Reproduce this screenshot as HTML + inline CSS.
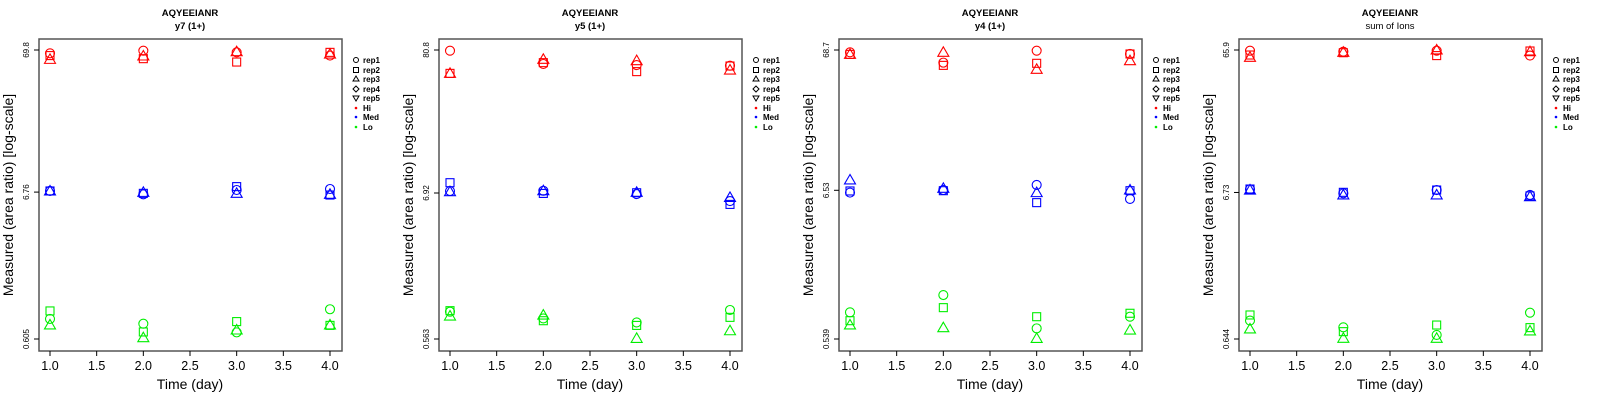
<!DOCTYPE html>
<html><head><meta charset="utf-8"><style>
body{margin:0;background:#fff;}
svg{display:block;font-family:"Liberation Sans",sans-serif;}
</style></head><body>
<svg id="chart" width="1600" height="400" viewBox="0 0 1600 400"></svg>
<script>
// ---- data (log10 of measured area ratio) ----
const days = [1, 2, 3, 4];
const panelTitles = ["y7 (1+)", "y5 (1+)", "y4 (1+)", "sum of Ions"];
const peptide = "AQYEEIANR";
const yTickLabels = [["69.8","6.76","0.605"],["80.8","6.92","0.563"],["68.7","6.53","0.539"],["65.9","6.73","0.644"]];
const yTickValues = [[69.8,6.76,0.605],[80.8,6.92,0.563],[68.7,6.53,0.539],[65.9,6.73,0.644]];
const xTicks = [1.0, 1.5, 2.0, 2.5, 3.0, 3.5, 4.0];
// [panel][day][rep1,rep2,rep3]
const hiLog = [
 [[1.820,1.804,1.777],[1.839,1.782,1.801],[1.827,1.758,1.832],[1.804,1.827,1.815]],
 [[1.902,1.733,1.733],[1.803,1.813,1.838],[1.795,1.746,1.828],[1.790,1.788,1.758]],
 [[1.820,1.805,1.805],[1.745,1.725,1.820],[1.832,1.740,1.696],[1.808,1.808,1.759]],
 [[1.814,1.784,1.768],[1.807,1.800,1.803],[1.814,1.780,1.819],[1.780,1.812,1.807]]
];
const medLog = [
 [[0.838,0.838,0.838],[0.814,0.821,0.828],[0.845,0.869,0.821],[0.852,0.809,0.814]],
 [[0.855,0.917,0.850],[0.857,0.837,0.857],[0.832,0.842,0.845],[0.780,0.755,0.807]],
 [[0.798,0.810,0.890],[0.817,0.812,0.829],[0.854,0.725,0.798],[0.752,0.812,0.817]],
 [[0.850,0.852,0.845],[0.822,0.829,0.811],[0.845,0.845,0.811],[0.811,0.804,0.799]]
];
const loLog = [
 [[-0.075,-0.018,-0.118],[-0.109,-0.168,-0.209],[-0.171,-0.094,-0.154],[-0.006,-0.121,-0.118]],
 [[-0.046,-0.038,-0.078],[-0.096,-0.113,-0.071],[-0.126,-0.148,-0.245],[-0.033,-0.088,-0.188]],
 [[-0.074,-0.135,-0.166],[0.052,-0.040,-0.186],[-0.191,-0.106,-0.264],[-0.106,-0.081,-0.203]],
 [[-0.063,-0.024,-0.121],[-0.110,-0.140,-0.186],[-0.163,-0.094,-0.186],[-0.008,-0.112,-0.135]]
];
const legendLabels = ["rep1","rep2","rep3","rep4","rep5","Hi","Med","Lo"];

const NS = "http://www.w3.org/2000/svg";
const svg = document.getElementById("chart");
function mk(tag, attrs, parent){ const e=document.createElementNS(NS,tag); for(const k in attrs) e.setAttribute(k,attrs[k]); (parent||svg).appendChild(e); return e; }

function marker(g, shape, cx, cy, color){
  let e;
  if(shape===0){ e=mk("circle",{cx:cx,cy:cy,r:4.5,fill:"none",stroke:color,"stroke-width":1.1},g); }
  else if(shape===1){ e=mk("rect",{x:cx-4,y:cy-4,width:8,height:8,fill:"none",stroke:color,"stroke-width":1.1},g); }
  else { e=mk("polygon",{points:`${cx},${cy-5.5} ${cx-5.5},${cy+4} ${cx+5.5},${cy+4}`,fill:"none",stroke:color,"stroke-width":1.1},g); }
  return e;
}

for(let p=0;p<4;p++){
  const ox=p*400;
  const g=mk("g",{transform:`translate(${ox},0)`});
  
  
  const L=39,R=342,T=39,B=351;
  const lt=Math.log10(yTickValues[p][0]), lb=Math.log10(yTickValues[p][2]);
  const yS=v=>50+(lt-v)/(lt-lb)*289;
  const xS=d=>50+(d-1)*(280/3);
  // titles
  const t1=mk("text",{x:190,y:16,"text-anchor":"middle","font-size":"9.5","font-weight":"bold"},g); t1.textContent=peptide;
  
  
  const t2=mk("text",{x:190,y:29,"text-anchor":"middle","font-size":"9.5","font-weight":p===3?"normal":"bold"},g); t2.textContent=panelTitles[p];
  
  
  // box
  const box=mk("rect",{x:L,y:T,width:R-L,height:B-T,fill:"none",stroke:"#555","stroke-width":1.5},g);
  
  
  // x ticks
  xTicks.forEach(v=>{
    const x=xS(v);
    mk("line",{x1:x,y1:B,x2:x,y2:B+5,stroke:"#000","stroke-width":1},g);
    const tl=mk("text",{x:x,y:370,"text-anchor":"middle","font-size":"12.5"},g); tl.textContent=v.toFixed(1);
    
    
  });
  const xl=mk("text",{x:190,y:389,"text-anchor":"middle","font-size":"14"},g); xl.textContent="Time (day)";
  
  
  // y ticks
  yTickValues[p].forEach((v,i)=>{
    const y=yS(Math.log10(v));
    mk("line",{x1:L-5,y1:y,x2:L,y2:y,stroke:"#000","stroke-width":1},g);
    const tl=mk("text",{x:0,y:0,"text-anchor":"middle","font-size":"8",transform:`translate(29,${y}) rotate(-90)`},g);
    tl.textContent=yTickLabels[p][i];
    
    
  });
  const yl=mk("text",{x:0,y:0,"text-anchor":"middle","font-size":"14",transform:"translate(13,195) rotate(-90)"},g);
  yl.textContent="Measured (area ratio) [log-scale]";
  
  
  // points
  const groups=[[hiLog,"#ff0000","hi"],[medLog,"#0000ff","med"],[loLog,"#00ee00","lo"]];
  groups.forEach(([arr,col,nm])=>{
    arr[p].forEach((reps,di)=>{
      reps.forEach((v,ri)=>{
        const m=marker(g,ri,xS(days[di]),yS(v),col);
        
        
      });
    });
  });
  // legend
  const lg=mk("g",{},g);
  
  
  const rows=[60,70,79,89,98,108,117,127];
  legendLabels.forEach((lab,i)=>{
    const y=rows[i], sx=356;
    if(i===0) mk("circle",{cx:sx,cy:y,r:2.5,fill:"none",stroke:"#000","stroke-width":1},lg);
    else if(i===1) mk("rect",{x:sx-2.5,y:y-2.5,width:5,height:5,fill:"none",stroke:"#000","stroke-width":1},lg);
    else if(i===2) mk("polygon",{points:`${sx},${y-3} ${sx-3},${y+2} ${sx+3},${y+2}`,fill:"none",stroke:"#000","stroke-width":1},lg);
    else if(i===3) mk("polygon",{points:`${sx},${y-3} ${sx+3},${y} ${sx},${y+3} ${sx-3},${y}`,fill:"none",stroke:"#000","stroke-width":1},lg);
    else if(i===4) mk("polygon",{points:`${sx},${y+3} ${sx-3},${y-2} ${sx+3},${y-2}`,fill:"none",stroke:"#000","stroke-width":1},lg);
    else mk("circle",{cx:sx,cy:y,r:1.3,fill:["#ff0000","#0000ff","#00ee00"][i-5]},lg);
    const tx=mk("text",{x:363,y:y+3,"font-size":"8","font-weight":"bold"},lg); tx.textContent=lab;
    
    
  });
}
</script>
</body></html>
